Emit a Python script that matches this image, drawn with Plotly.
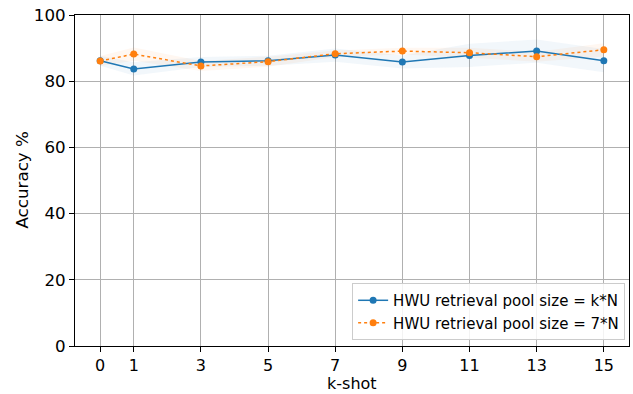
import plotly.graph_objects as go

# k-shot settings evaluated
k_shot = [0, 1, 3, 5, 7, 9, 11, 13, 15]

# Mean accuracy (%) and spread for each retrieval pool configuration
acc_kN = [86.2, 83.7, 85.8, 86.2, 87.9, 85.8, 87.8, 89.1, 86.2]
std_kN = [1.5, 2.0, 1.5, 1.5, 2.0, 2.0, 3.5, 3.5, 3.5]

acc_7N = [86.1, 88.2, 84.6, 85.9, 88.3, 89.1, 88.6, 87.4, 89.5]
std_7N = [1.5, 2.0, 1.5, 1.5, 1.0, 1.0, 1.5, 1.5, 2.0]

y_ticks = [0, 20, 40, 60, 80, 100]

BLUE = "#1f77b4"
ORANGE = "#ff7f0e"
FONT = "DejaVu Sans"

fig = go.Figure()


def add_band(mean, std, rgba):
    upper = [m + s for m, s in zip(mean, std)]
    lower = [m - s for m, s in zip(mean, std)]
    fig.add_trace(go.Scatter(x=k_shot, y=upper, mode="lines", line=dict(width=0),
                             showlegend=False, hoverinfo="skip"))
    fig.add_trace(go.Scatter(x=k_shot, y=lower, mode="lines", line=dict(width=0),
                             fill="tonexty", fillcolor=rgba,
                             showlegend=False, hoverinfo="skip"))


add_band(acc_kN, std_kN, "rgba(31,119,180,0.06)")
add_band(acc_7N, std_7N, "rgba(255,127,14,0.06)")

fig.add_trace(go.Scatter(
    x=k_shot, y=acc_kN, mode="lines+markers",
    name="HWU retrieval pool size = k*N",
    line=dict(color=BLUE, width=1.5),
    marker=dict(color=BLUE, size=7),
))
fig.add_trace(go.Scatter(
    x=k_shot, y=acc_7N, mode="lines+markers",
    name="HWU retrieval pool size = 7*N",
    line=dict(color=ORANGE, width=1.5, dash="dot"),
    marker=dict(color=ORANGE, size=7),
))

axis_common = dict(
    showgrid=True, gridcolor="#b0b0b0", gridwidth=1,
    showline=True, linecolor="black", linewidth=1, mirror=True,
    ticks="outside", ticklen=5, tickcolor="black",
    zeroline=False, automargin=False,
)

fig.update_xaxes(
    **axis_common,
    tickfont=dict(family=FONT, size=16, color="black"),
    range=[-0.75, 15.75],
    tickmode="array", tickvals=k_shot, ticktext=[str(k) for k in k_shot],
)
fig.update_yaxes(
    **axis_common,
    tickfont=dict(family=FONT, size=16.7, color="black"),
    range=[0, 100],
    tickmode="array", tickvals=y_ticks, ticktext=[str(v) for v in y_ticks],
)

fig.add_annotation(text="k-shot", xref="paper", yref="paper", x=0.5, y=0,
                   xanchor="center", yanchor="bottom", yshift=-48, borderpad=0,
                   showarrow=False, font=dict(family=FONT, size=16, color="black"))
fig.add_annotation(text="Accuracy %", xref="paper", yref="paper", x=0, y=0.5,
                   xanchor="center", yanchor="middle", xshift=-54, textangle=-90,
                   showarrow=False, font=dict(family=FONT, size=16.7, color="black"))

fig.update_layout(
    width=633, height=394,
    margin=dict(l=75, r=4, t=15, b=48),
    plot_bgcolor="white", paper_bgcolor="white",
    font=dict(family=FONT, color="black"),
    legend=dict(
        x=0.993, y=0.018, xanchor="right", yanchor="bottom",
        traceorder="normal",
        bgcolor="rgba(255,255,255,0.85)", bordercolor="#cccccc", borderwidth=1,
        font=dict(family=FONT, size=15, color="black"),
        tracegroupgap=0, itemwidth=30,
    ),
)

fig.write_html("out.html")
